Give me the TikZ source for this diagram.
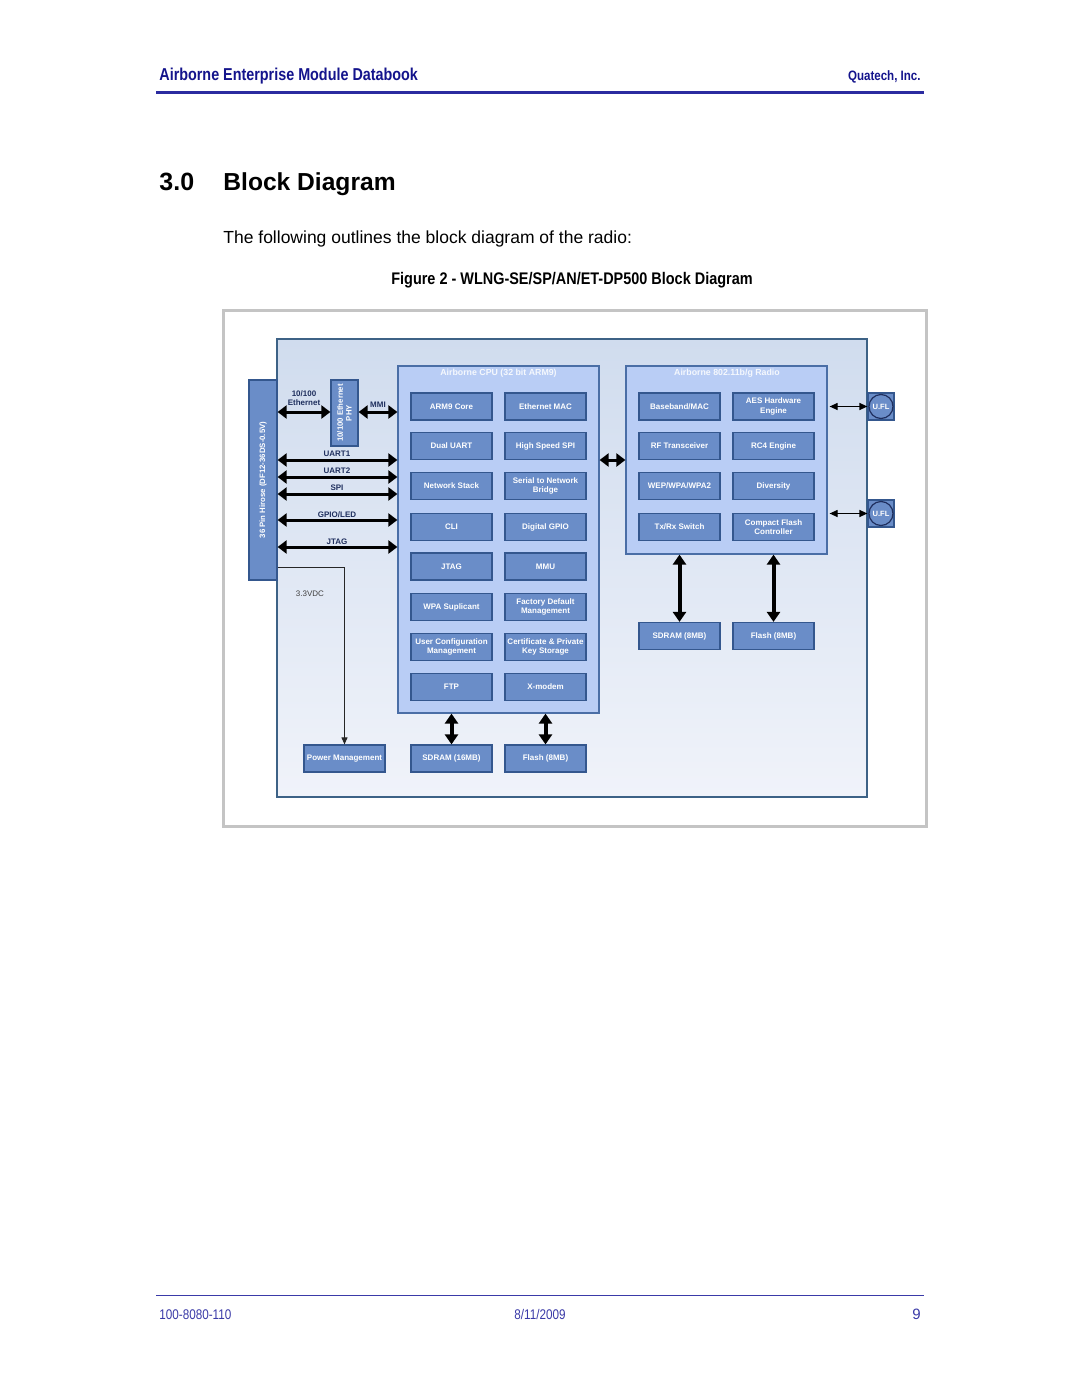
\documentclass[tikz,border=0pt]{standalone}
\usepackage{fontspec}
\setmainfont{Liberation Sans}
\setsansfont{Liberation Sans}
\newfontfamily\narrowsf[FakeStretch=0.835]{Liberation Sans}
\newfontfamily\capsf[FakeStretch=0.86]{Liberation Sans}
\newfontfamily\compsf[FakeStretch=0.85]{Liberation Sans}
\usetikzlibrary{arrows.meta}
\definecolor{hdrblue}{HTML}{14148C}
\definecolor{rulblue}{HTML}{2B2BA0}
\definecolor{ftblue}{HTML}{3A3AA8}
\definecolor{boxfill}{HTML}{6A8DC8}
\definecolor{boxbord}{HTML}{34578E}
\definecolor{cpufill}{HTML}{B9CDF5}
\definecolor{cpubord}{HTML}{4A6EA6}
\definecolor{pantop}{HTML}{D0DCEE}
\definecolor{panbot}{HTML}{F0F3FA}
\definecolor{panbord}{HTML}{3D6286}
\definecolor{labdark}{HTML}{1F2F5E}
\definecolor{framegray}{HTML}{C4C4C4}
\begin{document}
\begin{tikzpicture}[x=0.5pt,y=-0.5pt,
  inner/.style={draw=boxbord, fill=boxfill, line width=0.6pt, minimum width=40.5pt, minimum height=13.5pt, inner sep=0pt, align=center, text=white, font=\bfseries\fontsize{4}{4.6}\selectfont},
  panelbox/.style={draw=cpubord, fill=cpufill, line width=0.6pt, inner sep=0pt},
  buslab/.style={text=labdark, font=\bfseries\fontsize{4}{4.6}\selectfont, align=center, inner sep=0pt},
  ptitle/.style={text=white!85!cpufill, font=\bfseries\fontsize{4.4}{5}\selectfont, inner sep=0pt},
  bus/.style={line width=1.5pt, arrows={Triangle[length=4.5pt,width=6.5pt]-Triangle[length=4.5pt,width=6.5pt]}},
  membus/.style={line width=2pt, arrows={Triangle[length=5pt,width=6.5pt]-Triangle[length=5pt,width=6.5pt]}},
  thinbus/.style={line width=0.6pt, arrows={Triangle[length=4pt,width=3.5pt]-Triangle[length=4pt,width=3.5pt]}},
  ufl/.style={draw=boxbord, fill=boxfill, line width=0.6pt, minimum width=13pt, minimum height=13.5pt, inner sep=0pt}
]
\useasboundingbox (0,0) rectangle (1080,1397);
\fill[white] (0,0) rectangle (1080,1397);

% header
\node[anchor=base west, inner sep=0pt, text=hdrblue, font=\narrowsf\bfseries\fontsize{8.6}{10}\selectfont] (hdr) at (159,80) {Airborne Enterprise Module Databook};
\node[anchor=base east, inner sep=0pt, text=hdrblue, font=\compsf\bfseries\fontsize{6.8}{8}\selectfont] (comp) at (921,80) {Quatech, Inc.};
\draw[rulblue, line width=1.5pt] (156,92) -- (924,92);

% title
\node[anchor=base west, inner sep=0pt, font=\bfseries\fontsize{12.5}{14}\selectfont] (secnum) at (159,190) {3.0};
\node[anchor=base west, inner sep=0pt, font=\bfseries\fontsize{12.3}{14}\selectfont] (sectitle) at (223,190) {Block Diagram};
\node[anchor=base west, inner sep=0pt, font=\fontsize{8.75}{10}\selectfont] (intro) at (223,243) {The following outlines the block diagram of the radio:};
\node[anchor=base, inner sep=0pt, font=\capsf\bfseries\fontsize{8.4}{10}\selectfont] (cap) at (572,284) {Figure 2 - WLNG-SE/SP/AN/ET-DP500 Block Diagram};

% figure frame
\node[draw=framegray, line width=1.5pt, minimum width=351.5pt, minimum height=258pt, inner sep=0pt] (frame) at (574.5,568) {};
% main panel
\node[draw=panbord, line width=0.6pt, top color=pantop, bottom color=panbot, minimum width=295pt, minimum height=229pt, inner sep=0pt] (panel) at (572,568) {};

% left connector bar
\node[draw=boxbord, fill=boxfill, line width=0.6pt, minimum width=14pt, minimum height=100pt, inner sep=0pt] (bar) at (263,480) {};
\node[rotate=90, text=white, font=\bfseries\fontsize{3.9}{4.5}\selectfont, inner sep=0pt] (barlab) at (263,480) {36 Pin Hirose (DF12-36DS-0.5V)};

% PHY
\node[draw=boxbord, fill=boxfill, line width=0.6pt, minimum width=13.5pt, minimum height=33pt, inner sep=0pt] (phy) at (344.5,413) {};
\node[rotate=90, text=white, font=\bfseries\fontsize{3.9}{4.4}\selectfont, align=center, inner sep=0pt] (phylab) at (344.5,413) {10/100 Ethernet\\PHY};

% CPU panel
\node[panelbox, minimum width=100.5pt, minimum height=173.5pt] (cpu) at (498.5,539.5) {};
\node[ptitle] (cputitle) at (498.5,373) {Airborne CPU (32 bit ARM9)};
\node[inner] (arm) at (451.5,406.5) {ARM9 Core};
\node[inner] (emac) at (545.5,406.5) {Ethernet MAC};
\node[inner] (duart) at (451.5,446) {Dual UART};
\node[inner] (hspi) at (545.5,446) {High Speed SPI};
\node[inner] (nstack) at (451.5,486) {Network Stack};
\node[inner] (s2n) at (545.5,486) {Serial to Network\\Bridge};
\node[inner] (cli) at (451.5,527) {CLI};
\node[inner] (dgpio) at (545.5,527) {Digital GPIO};
\node[inner] (jtagb) at (451.5,566.5) {JTAG};
\node[inner] (mmu) at (545.5,566.5) {MMU};
\node[inner] (wpa) at (451.5,607) {WPA Suplicant};
\node[inner] (fdm) at (545.5,607) {Factory Default\\Management};
\node[inner] (ucm) at (451.5,647) {User Configuration\\Management};
\node[inner] (cert) at (545.5,647) {Certificate \& Private\\Key Storage};
\node[inner] (ftp) at (451.5,687) {FTP};
\node[inner] (xmod) at (545.5,687) {X-modem};
\node[inner] (sd16) at (451.5,758.5) {SDRAM (16MB)};
\node[inner] (fl8a) at (545.5,758.5) {Flash (8MB)};

% Radio panel
\node[panelbox, minimum width=100.5pt, minimum height=94pt] (radio) at (726.5,460) {};
\node[ptitle] (radiotitle) at (727,373) {Airborne 802.11b/g Radio};
\node[inner] (bb) at (679.5,406.5) {Baseband/MAC};
\node[inner] (aes) at (773.5,406.5) {AES Hardware\\Engine};
\node[inner] (rf) at (679.5,446) {RF Transceiver};
\node[inner] (rc4) at (773.5,446) {RC4 Engine};
\node[inner] (wep) at (679.5,486) {WEP/WPA/WPA2};
\node[inner] (div) at (773.5,486) {Diversity};
\node[inner] (txrx) at (679.5,527) {Tx/Rx Switch};
\node[inner] (cf) at (773.5,527) {Compact Flash\\Controller};
\node[inner] (sd8) at (679.5,636) {SDRAM (8MB)};
\node[inner] (fl8b) at (773.5,636) {Flash (8MB)};

% U.FL
\node[ufl] (ufl1) at (881,406.5) {};
\node[draw=labdark, line width=0.6pt, circle, minimum size=12pt, inner sep=0pt, text=white, font=\bfseries\fontsize{3.8}{4.4}\selectfont] (ufl1c) at (881,406.5) {U.FL};
\node[ufl] (ufl2) at (881,513.5) {};
\node[draw=labdark, line width=0.6pt, circle, minimum size=12pt, inner sep=0pt, text=white, font=\bfseries\fontsize{3.8}{4.4}\selectfont] (ufl2c) at (881,513.5) {U.FL};

% power management
\node[inner] (pm) at (344.5,758.5) {Power Management};

% coordinates for connector rows
\coordinate (yeth) at (0,412);
\coordinate (yu1) at (0,460);
\coordinate (yu2) at (0,477);
\coordinate (yspi) at (0,494);
\coordinate (ygpio) at (0,520);
\coordinate (yjtag) at (0,547);
\coordinate (ypwr) at (0,567);
\coordinate (yrad) at (0,460);

% connectors
\draw[bus] (bar.east |- yeth) -- (phy.west |- yeth);
\draw[bus] (phy.east |- yeth) -- (cpu.west |- yeth);
\draw[bus] (bar.east |- yu1) -- (cpu.west |- yu1);
\draw[bus] (bar.east |- yu2) -- (cpu.west |- yu2);
\draw[bus] (bar.east |- yspi) -- (cpu.west |- yspi);
\draw[bus] (bar.east |- ygpio) -- (cpu.west |- ygpio);
\draw[bus] (bar.east |- yjtag) -- (cpu.west |- yjtag);
\draw[bus] (cpu.east |- yrad) -- (radio.west |- yrad);
\draw[membus] (sd16.north |- cpu.south) -- (sd16.north);
\draw[membus] (fl8a.north |- cpu.south) -- (fl8a.north);
\draw[membus] (sd8.north |- radio.south) -- (sd8.north);
\draw[membus] (fl8b.north |- radio.south) -- (fl8b.north);
\draw[thinbus] ([xshift=1pt]radio.east |- ufl1) -- (ufl1.west);
\draw[thinbus] ([xshift=1pt]radio.east |- ufl2) -- (ufl2.west);
\draw[line width=0.5pt, draw=black!85, arrows={-Triangle[length=3.5pt,width=3pt]}] (bar.east |- ypwr) -| (pm.north);

% bus labels
\node[buslab] (lEth) at (304,398.5) {10/100\\Ethernet};
\node[buslab] (lMMI) at (378,405) {MMI};
\node[buslab] (lU1) at (337,453.5) {UART1};
\node[buslab] (lU2) at (337,470.5) {UART2};
\node[buslab] (lSPI) at (337,487.5) {SPI};
\node[buslab] (lGPIO) at (337,514.5) {GPIO/LED};
\node[buslab] (lJTAG) at (337,541.5) {JTAG};
\node[text=black!75, font=\fontsize{4}{4.6}\selectfont, inner sep=0pt] (l33) at (310,594) {3.3VDC};

% footer
\draw[ftblue, line width=0.5pt] (156,1295) -- (924,1295);
\node[anchor=base west, inner sep=0pt, text=ftblue, font=\narrowsf\fontsize{7}{8}\selectfont] (fdoc) at (159,1319) {100-8080-110};
\node[anchor=base, inner sep=0pt, text=ftblue, font=\narrowsf\fontsize{7}{8}\selectfont] (fdate) at (540,1319) {8/11/2009};
\node[anchor=base east, inner sep=0pt, text=ftblue, font=\fontsize{7.5}{8}\selectfont] (fpage) at (921,1319) {9};
\end{tikzpicture}
\end{document}
